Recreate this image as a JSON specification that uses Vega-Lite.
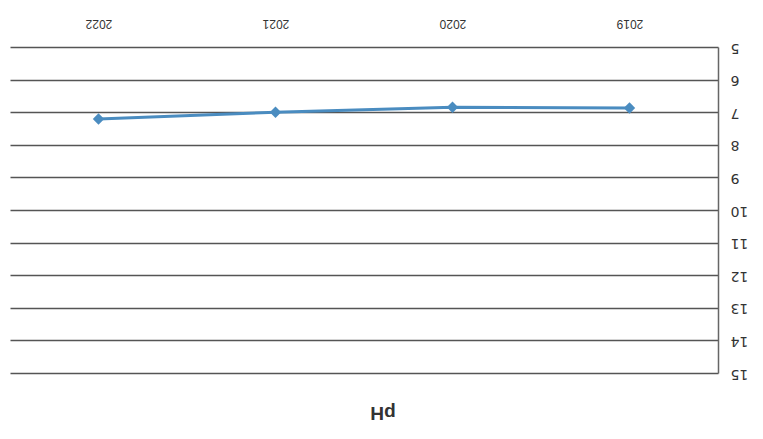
{
  "$schema": "https://vega.github.io/schema/vega-lite/v6.json",
  "width": 708,
  "height": 326,
  "autosize": "none",
  "padding": {"left": 10, "top": 47, "right": 45, "bottom": 66},
  "background": "white",
  "config": {"view": {"stroke": null}},
  "title": {
    "text": "pH",
    "orient": "bottom",
    "angle": 180,
    "font": "Liberation Sans",
    "fontSize": 19,
    "fontWeight": "bold",
    "color": "#333333",
    "offset": 23,
    "dx": -19,
    "baseline": "bottom"
  },
  "data": {
    "values": [
      {"year": "2019", "pH": 6.87},
      {"year": "2020", "pH": 6.85},
      {"year": "2021", "pH": 7.0},
      {"year": "2022", "pH": 7.21}
    ]
  },
  "mark": {
    "type": "line",
    "color": "#4a8cc0",
    "strokeWidth": 3,
    "point": {"shape": "diamond", "size": 130, "filled": true, "color": "#4a8cc0"}
  },
  "encoding": {
    "x": {
      "field": "year",
      "type": "ordinal",
      "sort": "descending",
      "scale": {"padding": 0.5},
      "axis": {
        "orient": "top",
        "title": null,
        "domain": false,
        "ticks": false,
        "labelAngle": 180,
        "labelBaseline": "top",
        "labelAlign": "center",
        "labelPadding": 19,
        "labelFont": "Liberation Sans",
        "labelFontSize": 12,
        "labelColor": "#333333"
      }
    },
    "y": {
      "field": "pH",
      "type": "quantitative",
      "scale": {"domain": [5, 15], "reverse": true, "nice": false},
      "axis": {
        "orient": "right",
        "title": null,
        "values": [5, 6, 7, 8, 9, 10, 11, 12, 13, 14, 15],
        "ticks": false,
        "domain": true,
        "domainColor": "#666666",
        "domainWidth": 1.5,
        "grid": true,
        "gridColor": "#555555",
        "gridWidth": 1.3,
        "labelAngle": 180,
        "labelAlign": "right",
        "labelBaseline": "middle",
        "labelPadding": 12,
        "labelFont": "DejaVu Sans",
        "labelFontSize": 14,
        "labelColor": "#333333"
      }
    }
  }
}
